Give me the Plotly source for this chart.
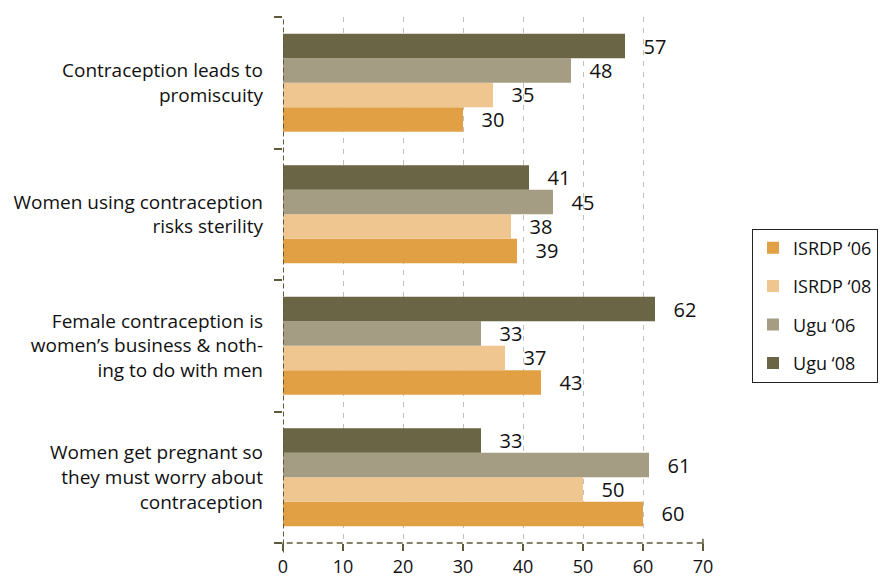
import plotly.graph_objects as go

# Survey statements (top to bottom as displayed)
statements = [
    "Contraception leads to<br>promiscuity",
    "Women using contraception<br>risks sterility",
    "Female contraception is<br>women’s business & noth-<br>ing to do with men",
    "Women get pregnant so<br>they must worry about<br>contraception",
]

series_names = ["ISRDP ‘06", "ISRDP ‘08", "Ugu ‘06", "Ugu ‘08"]
isrdp_06 = [30, 39, 43, 60]
isrdp_08 = [35, 38, 37, 50]
ugu_06 = [48, 45, 33, 61]
ugu_08 = [57, 41, 62, 33]

x_ticks = [0, 10, 20, 30, 40, 50, 60, 70]

colors = ["#E2A045", "#EFC590", "#A49C83", "#6A6545"]
axis_color = "#5F5A3C"
grid_color = "#C4C0B8"
font_family = "Open Sans, Liberation Sans, Arial, sans-serif"

fig = go.Figure()
for name, vals, col in zip(series_names, [isrdp_06, isrdp_08, ugu_06, ugu_08], colors):
    fig.add_trace(go.Bar(
        y=statements,
        x=vals,
        name=name,
        orientation="h",
        marker=dict(color=col, line=dict(width=0)),
        text=["\u00a0\u00a0\u00a0" + str(v) for v in vals],
        textposition="outside",
        textfont=dict(size=20, color="#111111", family=font_family),
        constraintext="none",
        cliponaxis=False,
        legendgroup=name,
    ))

# Dashed axis lines along the left and bottom of the plot area
fig.add_shape(type="line", xref="x", yref="paper", x0=0, x1=0, y0=-0.018, y1=1,
              line=dict(color=axis_color, width=2, dash="5px,3px"), layer="above")
fig.add_shape(type="line", xref="paper", yref="paper", x0=-0.015, x1=1, y0=0, y1=0,
              line=dict(color=axis_color, width=1.5, dash="6px,4px"), layer="above")
fig.add_shape(type="line", xref="paper", yref="paper", x0=1, x1=1, y0=-0.008, y1=0.008,
              line=dict(color=axis_color, width=1.5), layer="above")

fig.update_layout(
    width=880,
    height=579,
    margin=dict(l=283, r=177, t=17, b=36, autoexpand=False),
    paper_bgcolor="white",
    plot_bgcolor="white",
    barmode="group",
    bargap=0.255,
    bargroupgap=0,
    font=dict(family=font_family, size=18, color="#111111"),
    xaxis=dict(
        range=[0, 70],
        tickvals=x_ticks,
        automargin=False,
        showgrid=True,
        gridcolor=grid_color,
        gridwidth=1,
        griddash="5px,6px",
        zeroline=False,
        showline=False,
        ticks="outside",
        ticklen=7,
        tickwidth=1.5,
        tickcolor=axis_color,
        tickfont=dict(size=18, color="#111111"),
    ),
    yaxis=dict(
        categoryorder="array",
        categoryarray=statements[::-1],
        automargin=False,
        showgrid=False,
        zeroline=False,
        showline=False,
        ticks="outside",
        tickson="boundaries",
        ticklen=8,
        tickwidth=1.5,
        tickcolor=axis_color,
        tickfont=dict(size=19, color="#111111"),
        ticklabelstandoff=19,
    ),
    legend=dict(
        x=1.4167,
        xanchor="right",
        y=0.4515,
        yanchor="middle",
        traceorder="grouped",
        bordercolor="#222222",
        borderwidth=1,
        bgcolor="white",
        font=dict(size=18, color="#111111"),
        tracegroupgap=12,
    ),
)

fig.write_html("out.html")
